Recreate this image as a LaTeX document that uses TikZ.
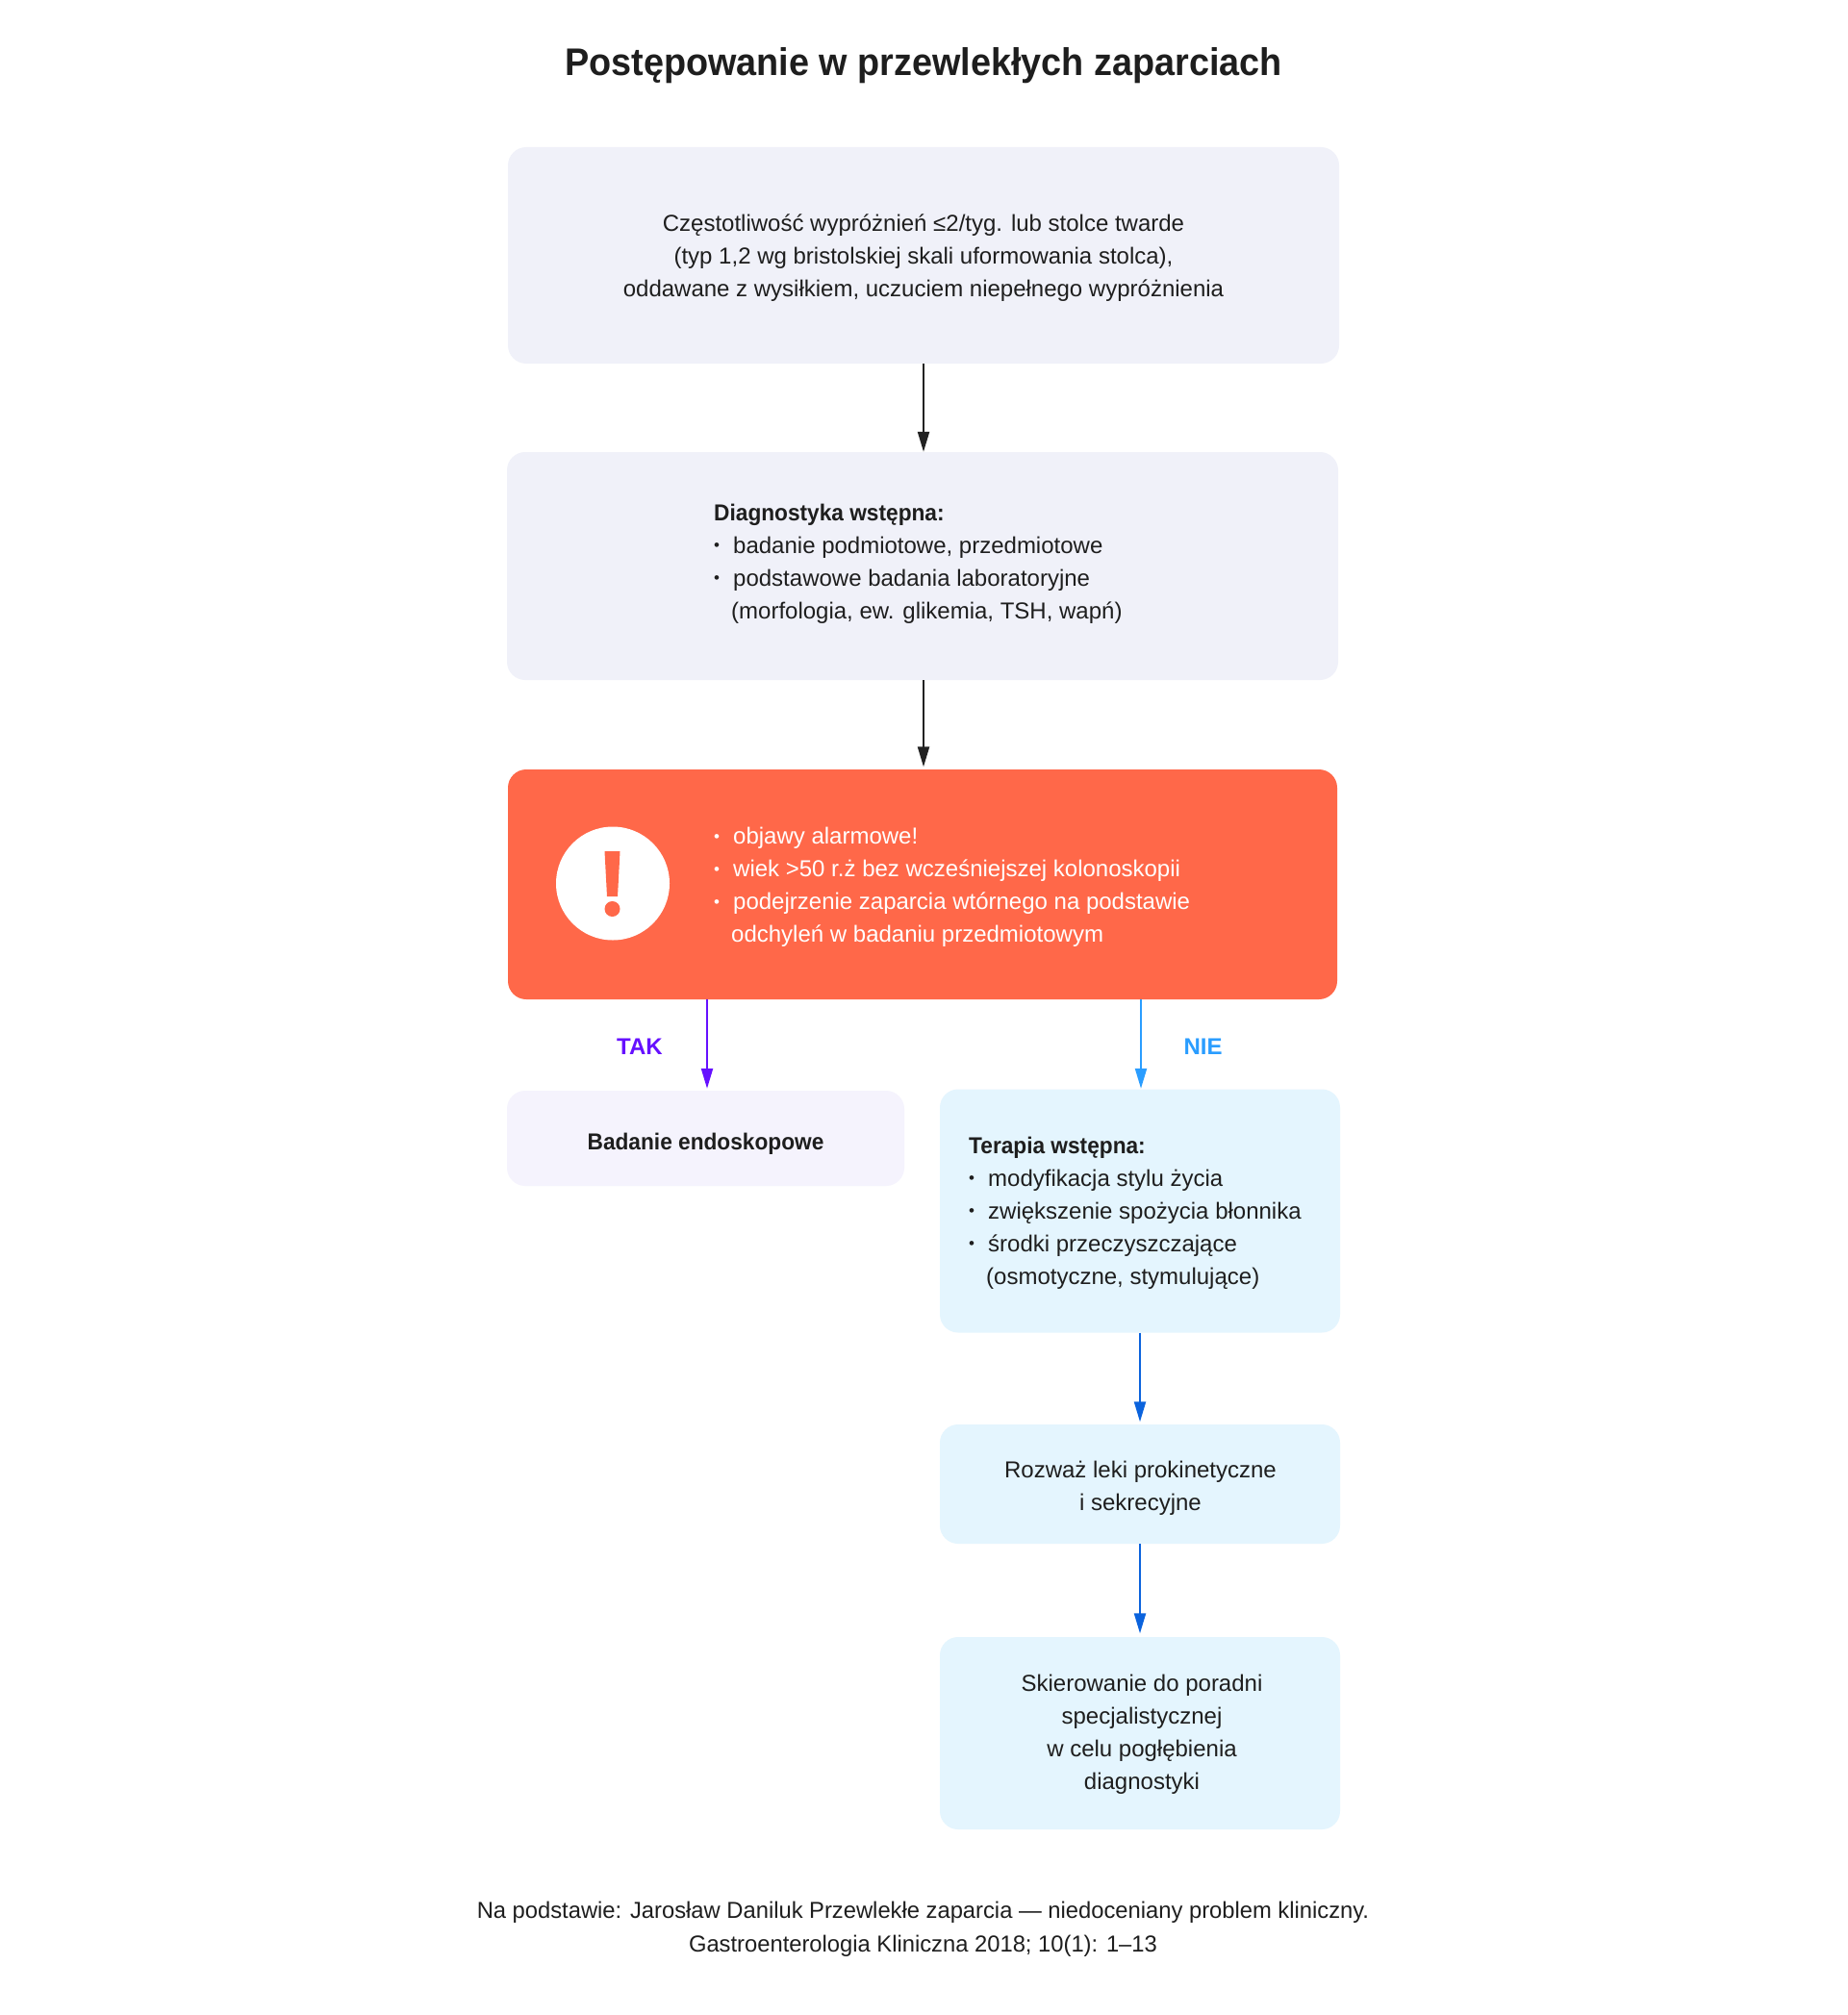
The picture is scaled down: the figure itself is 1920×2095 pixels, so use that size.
\documentclass[tikz,border=0pt]{standalone}
\usepackage{fontspec}
\usetikzlibrary{arrows.meta}
\setmainfont{Liberation Sans}[BoldFeatures={FakeStretch=0.945}]
\newfontfamily\verdictfont{Liberation Sans}
\newfontfamily\footfont{Liberation Sans}[FakeStretch=0.99]
\definecolor{ink}{HTML}{1E1E1E}
\definecolor{greybox}{HTML}{F0F1F9}
\definecolor{alarmred}{HTML}{FF6849}
\definecolor{lilacbox}{HTML}{F5F3FD}
\definecolor{skybox}{HTML}{E4F5FE}
\definecolor{arrowdark}{HTML}{222222}
\definecolor{arrowpurple}{HTML}{6610FF}
\definecolor{arrowsky}{HTML}{2A9DFF}
\definecolor{arrowblue}{HTML}{0B63DD}
\newcommand{\blt}{\makebox[20pt][l]{\raisebox{2.5pt}{\fontsize{17}{17}\selectfont •}}}
\newcommand{\cont}{\hspace*{18pt}}
\tikzset{
  card/.style={rounded corners=19pt,inner sep=0pt,draw=none},
  body/.style={font=\fontsize{24}{34}\selectfont,text=ink,inner sep=0pt},
  conn/.style={line width=2.2pt,-{Stealth[inset=0pt,length=21pt,width=12pt]}},
  verdict/.style={font=\verdictfont\bfseries\fontsize{24}{30}\selectfont,inner sep=0pt}
}
\begin{document}
\begin{tikzpicture}[x=1pt,y=-1pt]
\useasboundingbox[fill=white] (0,0) rectangle (1920,2095);
\node[font=\bfseries\fontsize{40}{48}\selectfont,text=ink,inner sep=0pt] (title) at (960,68) {Postępowanie w przewlekłych zaparciach};

\node[card,fill=greybox,minimum width=864pt,minimum height=225pt] (b1) at (960,265.5) {};
\node[card,fill=greybox,minimum width=864pt,minimum height=237pt] (b2) at (959,588.5) {};
\node[card,fill=alarmred,minimum width=862pt,minimum height=239pt] (b3) at (959,919.5) {};
\node[card,fill=lilacbox,minimum width=413pt,minimum height=99pt] (endo) at (733.5,1183.5) {};
\node[card,fill=skybox,minimum width=416pt,minimum height=253pt] (tera) at (1185,1259) {};
\node[card,fill=skybox,minimum width=416pt,minimum height=124pt] (roz) at (1185,1543) {};
\node[card,fill=skybox,minimum width=416pt,minimum height=200pt] (ski) at (1185,1802) {};

\node[body,align=center] (t1) at (960,268) {Częstotliwość wypróżnień ≤2/tyg. lub stolce twarde\\(typ 1,2 wg bristolskiej skali uformowania stolca),\\oddawane z wysiłkiem, uczuciem niepełnego wypróżnienia};
\node[body,align=left,anchor=west] (t2) at (742,586) {\textbf{Diagnostyka wstępna:}\\\blt badanie podmiotowe, przedmiotowe\\\blt podstawowe badania laboratoryjne\\\cont(morfologia, ew. glikemia, TSH, wapń)};
\node[body,align=left,anchor=west,text=white] (t3) at (742,922.5) {\blt objawy alarmowe!\\\blt wiek >50 r.ż bez wcześniejszej kolonoskopii\\\blt podejrzenie zaparcia wtórnego na podstawie\\\cont odchyleń w badaniu przedmiotowym};
\node[body,font=\bfseries\fontsize{24}{34}\selectfont] (t4) at (733.5,1189) {Badanie endoskopowe};
\node[body,align=left,anchor=west] (t5) at (1007,1261) {\textbf{Terapia wstępna:}\\\blt modyfikacja stylu życia\\\blt zwiększenie spożycia błonnika\\\blt środki przeczyszczające\\\cont(osmotyczne, stymulujące)};
\node[body,align=center] (t6) at (1185.5,1547) {Rozważ leki prokinetyczne\\i sekrecyjne};
\node[body,align=center] (t7) at (1187,1803) {Skierowanie do poradni\\specjalistycznej\\w celu pogłębienia\\diagnostyki};
\node[body,align=center,font=\footfont\fontsize{24}{35}\selectfont] (foot) at (959.5,2006) {Na podstawie: Jarosław Daniluk Przewlekłe zaparcia — niedoceniany problem kliniczny.\\Gastroenterologia Kliniczna 2018; 10(1): 1–13};

% warning icon
\node[circle,fill=white,minimum size=118pt,inner sep=0pt] (warn) at (637,918.5) {};
\fill[alarmred] (628.5,885) -- (644.5,885) -- (642,932) -- (631,932) -- cycle;
\fill[alarmred] (636.5,945) circle (8pt);

% connectors
\coordinate (takx) at (735,1039);
\coordinate (niex) at (1186,1039);
\draw[conn,arrowdark] (b1.south) -- (b1.south |- b2.north);
\draw[conn,arrowdark,shorten >=2.5pt] (b2.south -| b1.south) -- (b1.south |- b3.north);
\draw[conn,arrowpurple,shorten >=2pt] (takx) -- (takx |- endo.north);
\draw[conn,arrowsky,shorten >=0.5pt] (niex) -- (niex |- tera.north);
\draw[conn,arrowblue,shorten >=2.5pt] (tera.south) -- (roz.north);
\draw[conn,arrowblue,shorten >=3.5pt] (roz.south) -- (ski.north);
\node[verdict,text=arrowpurple] (tak) at (665,1088) {TAK};
\node[verdict,text=arrowsky] (nie) at (1250.5,1088) {NIE};
\end{tikzpicture}
\end{document}
